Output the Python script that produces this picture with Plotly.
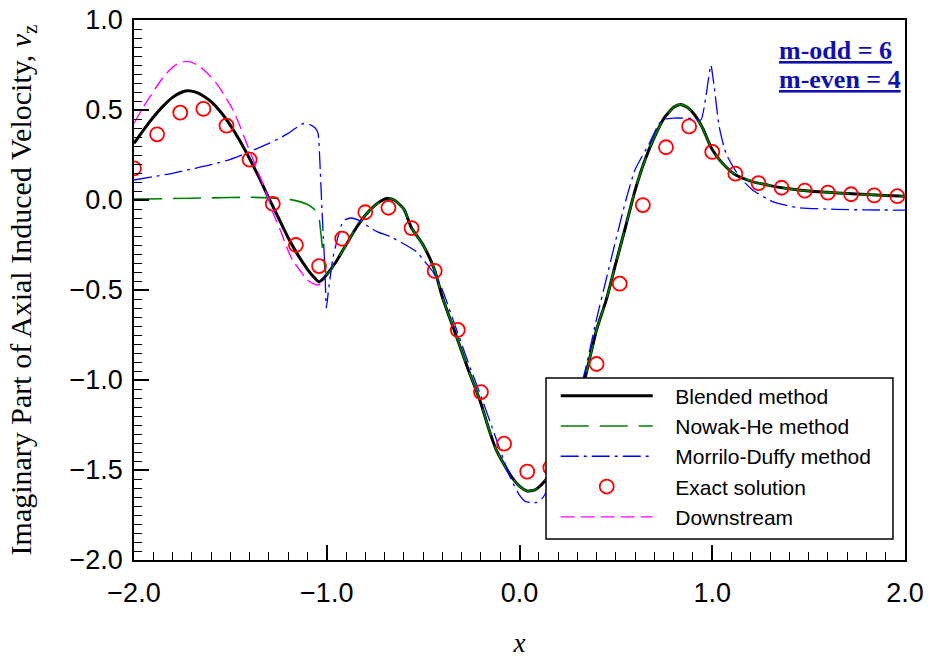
import plotly.graph_objects as go

# ---------------- data ----------------
blended_x = [-2.00, -1.95, -1.90, -1.85, -1.80, -1.75, -1.72, -1.68, -1.64, -1.60,
             -1.55, -1.50, -1.45, -1.40, -1.35, -1.30, -1.25, -1.20, -1.15, -1.10,
             -1.07, -1.04, -1.02, -1.00, -0.95, -0.90, -0.85, -0.80, -0.75, -0.70,
             -0.68, -0.65, -0.60, -0.56, -0.50, -0.44, -0.40, -0.34, -0.27, -0.20,
             -0.16, -0.12, -0.08, -0.04, 0.00, 0.04, 0.08, 0.12, 0.16, 0.20,
             0.25, 0.30, 0.34, 0.40, 0.45, 0.50, 0.55, 0.60, 0.65, 0.70,
             0.75, 0.80, 0.835, 0.87, 0.90, 0.95, 0.98, 1.00, 1.04, 1.08,
             1.12, 1.20, 1.30, 1.40, 1.50, 1.60, 1.70, 1.80, 1.90, 2.00]
blended_y = [0.315, 0.39, 0.46, 0.52, 0.57, 0.600, 0.607, 0.599, 0.578, 0.546,
             0.489, 0.415, 0.328, 0.229, 0.123, 0.009, -0.10, -0.21, -0.305, -0.385,
             -0.425, -0.455, -0.44, -0.415, -0.34, -0.25, -0.16, -0.085, -0.03, 0.005,
             0.009, 0.0, -0.05, -0.156, -0.25, -0.39, -0.54, -0.72, -0.93, -1.13,
             -1.27, -1.39, -1.47, -1.54, -1.59, -1.617, -1.61, -1.575, -1.52, -1.44,
             -1.31, -1.15, -0.99, -0.72, -0.555, -0.35, -0.15, 0.055, 0.22, 0.35,
             0.455, 0.515, 0.531, 0.515, 0.485, 0.40, 0.325, 0.28, 0.22, 0.175,
             0.14, 0.105, 0.08, 0.062, 0.05, 0.043, 0.036, 0.03, 0.025, 0.021]

nowak_x = [-2.00, -1.80, -1.60, -1.40, -1.30, -1.20, -1.14, -1.10, -1.07, -1.05,
           -1.04, -1.035, -1.025, -1.015, -1.005, -1.00, -0.95, -0.90, -0.85, -0.80,
           -0.75, -0.70, -0.68, -0.65, -0.60, -0.56, -0.50, -0.44, -0.40, -0.34,
           -0.27, -0.20, -0.16, -0.12, -0.08, -0.04, 0.00, 0.04, 0.08, 0.12,
           0.16, 0.20, 0.25, 0.30, 0.34, 0.40, 0.45, 0.50, 0.55, 0.60,
           0.65, 0.70, 0.75, 0.80, 0.835, 0.87, 0.90, 0.95, 0.98, 1.00,
           1.04, 1.08, 1.12, 1.20, 1.30, 1.40, 1.50, 1.60, 1.70, 1.80, 1.90, 2.00]
nowak_y = [0.005, 0.008, 0.012, 0.015, 0.012, 0.005, -0.009, -0.025, -0.046, -0.07,
           -0.10, -0.14, -0.24, -0.33, -0.40, -0.415, -0.34, -0.25, -0.16, -0.085,
           -0.03, 0.005, 0.009, 0.0, -0.05, -0.156, -0.25, -0.39, -0.54, -0.72,
           -0.93, -1.13, -1.27, -1.39, -1.47, -1.54, -1.59, -1.617, -1.61, -1.575,
           -1.52, -1.44, -1.31, -1.15, -0.99, -0.72, -0.555, -0.35, -0.15, 0.055,
           0.22, 0.35, 0.455, 0.515, 0.531, 0.515, 0.485, 0.40, 0.325, 0.28,
           0.22, 0.175, 0.14, 0.105, 0.08, 0.062, 0.05, 0.043, 0.036, 0.03, 0.025, 0.021]

morrilo_x = [-2.00, -1.90, -1.80, -1.70, -1.60, -1.50, -1.40, -1.30, -1.25, -1.20,
             -1.16, -1.12, -1.09, -1.06, -1.045, -1.036, -1.027, -1.019, -1.010, -1.002,
             -0.993, -0.984, -0.967, -0.950, -0.924, -0.907, -0.872, -0.83, -0.78, -0.74,
             -0.67, -0.59, -0.535, -0.484, -0.449, -0.40, -0.34, -0.27, -0.20, -0.14,
             -0.08, -0.04, 0.00, 0.03, 0.06, 0.09, 0.12, 0.16, 0.20, 0.25,
             0.30, 0.34, 0.40, 0.45, 0.50, 0.552, 0.60, 0.674, 0.725, 0.76,
             0.80, 0.85, 0.90, 0.941, 0.967, 0.993, 1.010, 1.036, 1.071, 1.14,
             1.209, 1.313, 1.433, 1.64, 1.80, 2.00]
morrilo_y = [0.111, 0.13, 0.148, 0.172, 0.196, 0.226, 0.268, 0.315, 0.34, 0.37,
             0.40, 0.425, 0.42, 0.40, 0.37, 0.22, 0.0, -0.185, -0.37, -0.60,
             -0.52, -0.444, -0.315, -0.24, -0.139, -0.111, -0.10, -0.115, -0.15, -0.176,
             -0.204, -0.25, -0.287, -0.352, -0.40, -0.50, -0.68, -0.89, -1.09, -1.27,
             -1.45, -1.56, -1.64, -1.675, -1.68, -1.68, -1.655, -1.58, -1.46, -1.30,
             -1.11, -0.95, -0.66, -0.44, -0.22, 0.0, 0.17, 0.315, 0.426, 0.45,
             0.455, 0.455, 0.452, 0.444, 0.574, 0.75, 0.63, 0.407, 0.259, 0.13,
             0.056, -0.009, -0.041, -0.052, -0.055, -0.056]

exact_x = [-2.00, -1.88, -1.76, -1.64, -1.52, -1.40, -1.28, -1.16, -1.04, -0.92,
           -0.80, -0.68, -0.56, -0.44, -0.32, -0.20, -0.08, 0.04, 0.16, 0.28,
           0.40, 0.52, 0.64, 0.76, 0.88, 1.00, 1.12, 1.24, 1.36, 1.48,
           1.60, 1.72, 1.84, 1.96]
exact_y = [0.176, 0.365, 0.485, 0.506, 0.413, 0.224, -0.021, -0.25, -0.367, -0.215,
           -0.068, -0.043, -0.156, -0.394, -0.722, -1.067, -1.354, -1.509, -1.487, -1.25,
           -0.911, -0.465, -0.028, 0.293, 0.409, 0.267, 0.146, 0.094, 0.068, 0.052,
           0.041, 0.032, 0.026, 0.021]

down_x = [-2.00, -1.95, -1.917, -1.87, -1.831, -1.79, -1.745, -1.70, -1.658, -1.615,
          -1.572, -1.53, -1.486, -1.45, -1.416, -1.38, -1.347, -1.31, -1.278, -1.24,
          -1.209, -1.175, -1.14, -1.105, -1.07, -1.045, -1.03, -1.02]
down_y = [0.426, 0.52, 0.574, 0.65, 0.704, 0.745, 0.769, 0.765, 0.741, 0.70,
          0.648, 0.58, 0.50, 0.41, 0.315, 0.22, 0.13, 0.03, -0.074, -0.17,
          -0.259, -0.34, -0.389, -0.44, -0.465, -0.472, -0.465, -0.445]

x_ticks = [-2.0, -1.0, 0.0, 1.0, 2.0]
y_ticks = [-2.0, -1.5, -1.0, -0.5, 0.0, 0.5, 1.0]

series_names = ["Blended method", "Nowak-He method", "Morrilo-Duffy method",
                "Exact solution", "Downstream"]
PAD = "\u00a0\u00a0\u00a0"  # gap between legend symbol and label

# ---------------- figure ----------------
fig = go.Figure()

fig.add_trace(go.Scatter(x=blended_x, y=blended_y, mode="lines", name=PAD + series_names[0],
                         line=dict(color="black", width=3, shape="spline", smoothing=0.6)))
fig.add_trace(go.Scatter(x=nowak_x, y=nowak_y, mode="lines", name=PAD + series_names[1],
                         line=dict(color="#008000", width=1.6, dash="28px,11px",
                                   shape="spline", smoothing=0.6)))
fig.add_trace(go.Scatter(x=morrilo_x, y=morrilo_y, mode="lines", name=PAD + series_names[2],
                         line=dict(color="#0000ff", width=1.3, dash="18px,5px,3px,5px",
                                   shape="spline", smoothing=0.5)))
fig.add_trace(go.Scatter(x=exact_x, y=exact_y, mode="markers", name=PAD + series_names[3],
                         marker=dict(symbol="circle-open", size=14, color="#ff0000",
                                     line=dict(color="#ff0000", width=1.8))))
fig.add_trace(go.Scatter(x=down_x, y=down_y, mode="lines", name=PAD + series_names[4],
                         line=dict(color="#ff00ff", width=1.4, dash="14px,6px",
                                   shape="spline", smoothing=0.6)))

axis_common = dict(
    showline=True, linecolor="black", linewidth=1.5, mirror=True,
    showgrid=False, zeroline=False, automargin=False,
    ticks="inside", ticklen=15, tickwidth=1.5, tickcolor="black",
    tickfont=dict(family="Liberation Sans, Arial, sans-serif", size=27, color="black"),
    tickformat=".1f",
)

fig.update_xaxes(range=[-2, 2], tickvals=x_ticks, **axis_common,
                 minor=dict(dtick=0.1, ticks="inside", ticklen=8, tickwidth=1.2, tickcolor="black"),
                 ticklabelstandoff=8,
                 title=dict(text="<i>x</i>", font=dict(family="Liberation Serif, Times New Roman, serif",
                                                      size=27, color="black"), standoff=26))
fig.update_yaxes(range=[-2, 1], tickvals=y_ticks, **axis_common,
                 minor=dict(dtick=0.05, ticks="inside", ticklen=8, tickwidth=1.2, tickcolor="black"),
                 ticklabelstandoff=4,
                 title=dict(text="Imaginary Part of Axial Induced Velocity, <i>v</i><sub>z</sub>",
                            font=dict(family="Liberation Serif, Times New Roman, serif",
                                      size=30, color="black"), standoff=29))

ann_font = dict(family="Liberation Serif, Times New Roman, serif", size=26, color="#1010b0")
fig.add_annotation(xref="paper", yref="paper", x=0.834, y=0.9426, xanchor="left", yanchor="middle",
                   align="left", showarrow=False, text="<b><u>m-odd = 6</u></b>", font=ann_font)
fig.add_annotation(xref="paper", yref="paper", x=0.834, y=0.8889, xanchor="left", yanchor="middle",
                   align="left", showarrow=False, text="<b><u>m-even = 4</u></b>", font=ann_font)

# legend frame (white box covering the curves)
fig.add_shape(type="rect", xref="paper", yref="paper",
              x0=0.5344, x1=0.9844, y0=0.0389, y1=0.337,
              fillcolor="white", line=dict(color="black", width=1.5), layer="above")

fig.update_layout(
    width=929, height=662,
    margin=dict(l=134, r=24, t=20, b=102),
    paper_bgcolor="white", plot_bgcolor="white",
    showlegend=True,
    legend=dict(x=0.547, y=0.3417, xanchor="left", yanchor="top",
                bgcolor="rgba(0,0,0,0)", borderwidth=0,
                font=dict(family="Liberation Sans, Arial, sans-serif", size=21, color="black"),
                itemwidth=92, tracegroupgap=0),
)

fig.write_html("out.html")
